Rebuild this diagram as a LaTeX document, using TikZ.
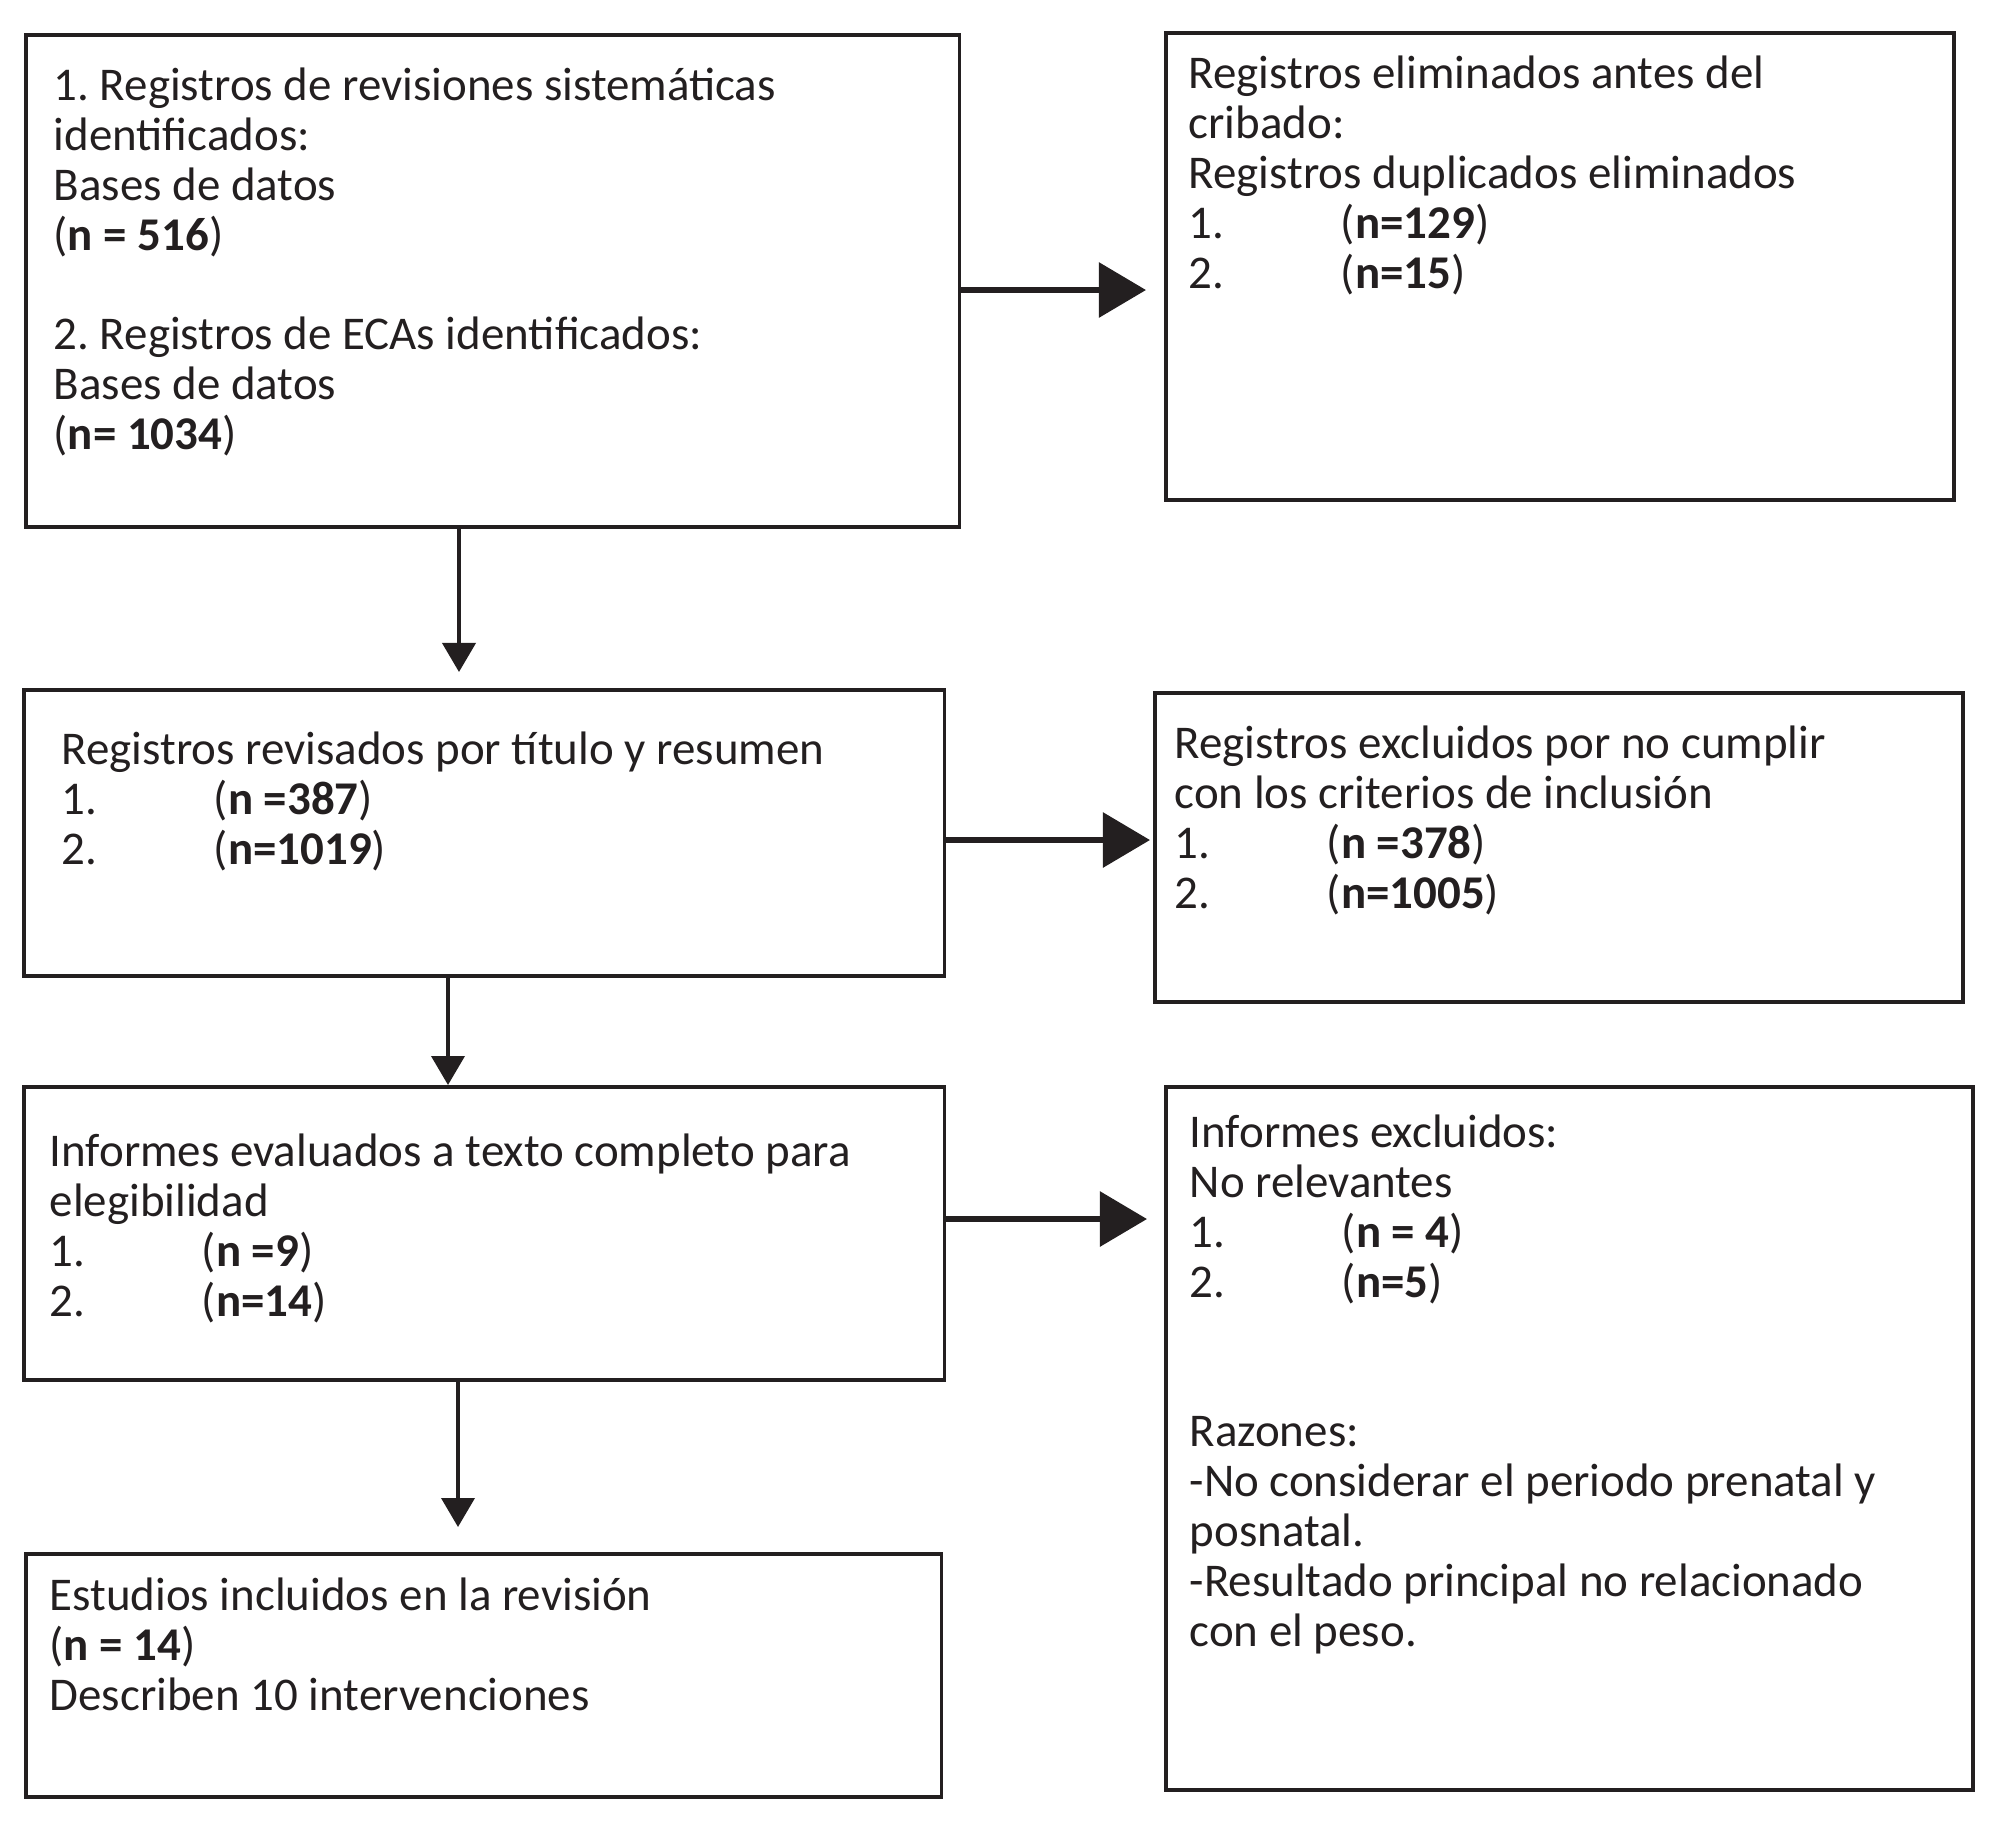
\documentclass[tikz,border=0pt]{standalone}
\usepackage{fontspec}
\setmainfont{Carlito}
\usetikzlibrary{arrows.meta}
\definecolor{ink}{HTML}{231F20}
\newcommand{\nn}[1]{({\bfseries #1})}
\newcommand{\itm}[2]{\makebox[1.52cm][l]{#1}\nn{#2}}
\frenchspacing

\begin{document}
\begin{tikzpicture}[x=0.01cm,y=-0.01cm,
    box/.style={draw=ink,line width=1pt,rectangle,inner sep=0pt,anchor=north west},
    txt/.style={anchor=north west,inner sep=0pt,align=left,text=ink,font=\fontsize{13.35}{14.2}\selectfont,
      execute at begin node=\rule{0pt}{11pt}},
    harrow/.style={draw=ink,line width=1.7pt,-{Triangle[length=0.47cm,width=0.54cm]}},
    varrow/.style={draw=ink,line width=1.1pt,-{Triangle[length=0.29cm,width=0.33cm]}}]
    \useasboundingbox (0,0) rectangle (2006,1823);
    % boxes
    \node[box,minimum width=9.33cm,minimum height=4.92cm] (b1) at (24,33) {};
    \node[box,minimum width=7.88cm,minimum height=4.67cm] (b2) at (1164,31) {};
    \node[box,minimum width=9.20cm,minimum height=2.86cm] (b3) at (22,688) {};
    \node[box,minimum width=8.08cm,minimum height=3.09cm] (b4) at (1153,691) {};
    \node[box,minimum width=9.20cm,minimum height=2.93cm] (b5) at (22,1085) {};
    \node[box,minimum width=8.07cm,minimum height=7.03cm] (b6) at (1164,1085) {};
    \node[box,minimum width=9.15cm,minimum height=2.43cm] (b7) at (24,1552) {};
    % texts
    \node[txt] (t1) at (53,67) {1. Registros de revisiones sistemáticas\\ identificados:\\ Bases de datos\\ \nn{n = 516}\\[14.2pt] 2. Registros de ECAs identificados:\\ Bases de datos\\ \nn{n= 1034}};
    \node[txt] (t2) at (1188,55) {Registros eliminados antes del\\ cribado:\\ Registros duplicados eliminados\\ \itm{1.}{n=129}\\ \itm{2.}{n=15}};
    \node[txt] (t3) at (61,731) {Registros revisados por título y resumen\\ \itm{1.}{n =387}\\ \itm{2.}{n=1019}};
    \node[txt] (t4) at (1174,725) {Registros excluidos por no cumplir\\ con los criterios de inclusión\\ \itm{1.}{n =378}\\ \itm{2.}{n=1005}};
    \node[txt] (t5) at (49,1133) {Informes evaluados a texto completo para\\ elegibilidad\\ \itm{1.}{n =9}\\ \itm{2.}{n=14}};
    \node[txt] (t6) at (1189,1114) {Informes excluidos:\\ No relevantes\\ \itm{1.}{n = 4}\\ \itm{2.}{n=5}\\[28.4pt] Razones:\\ -No considerar el periodo prenatal y\\ posnatal.\\ -Resultado principal no relacionado\\ con el peso.};
    \node[txt] (t7) at (49,1577) {Estudios incluidos en la revisión\\ \nn{n = 14}\\ Describen 10 intervenciones};
    % arrows
    \draw[harrow,shorten >=0.18cm] (b1.east |- 0,290) -- (b2.west |- 0,290);
    \draw[harrow,shorten >=0.03cm] (b3.east |- 0,840) -- (b4.west |- 0,840);
    \draw[harrow,shorten >=0.17cm] (b5.east |- 0,1219) -- (b6.west |- 0,1219);
    \draw[varrow,shorten >=0.16cm] (b1.south -| 459,0) -- (b3.north -| 459,0);
    \draw[varrow] (b3.south -| 448,0) -- (b5.north -| 448,0);
    \draw[varrow,shorten >=0.25cm] (b5.south -| 458,0) -- (b7.north -| 458,0);
\end{tikzpicture}
\end{document}
